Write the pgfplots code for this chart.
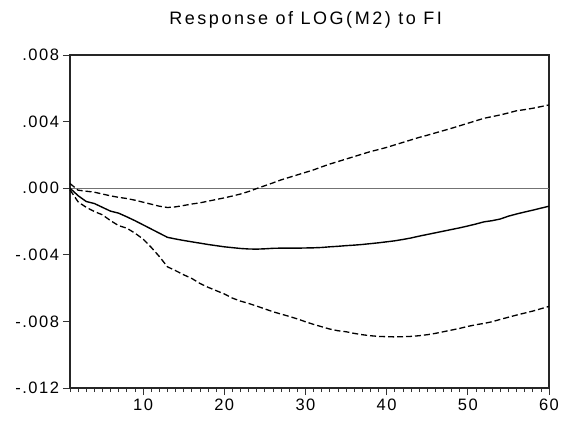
\documentclass[border=0pt]{standalone}
\usepackage{pgfplots}
\pgfplotsset{compat=1.18}
\usepackage{pgfplotstable}
\usepackage{fontspec}
\setmainfont{Liberation Sans}[LetterSpace=9]
\newfontfamily\titlefont{Liberation Sans}[LetterSpace=14]
\pgfplotstableread{
x mean hi lo
1 0 0.00028 -0.00010
2 -0.00045 -0.00012 -0.00082
3 -0.00080 -0.00018 -0.00115
4 -0.00092 -0.00024 -0.00140
5 -0.00115 -0.00035 -0.00160
6 -0.00138 -0.00046 -0.00195
7 -0.00150 -0.00055 -0.00225
8 -0.00172 -0.00062 -0.00240
9 -0.00195 -0.00072 -0.00270
10 -0.00220 -0.00084 -0.00305
11 -0.00245 -0.00096 -0.00355
12 -0.00270 -0.00108 -0.00410
13 -0.00295 -0.00116 -0.00472
14 -0.00305 -0.00112 -0.00495
15 -0.00314 -0.00104 -0.00520
16 -0.00322 -0.00095 -0.00542
17 -0.00330 -0.00088 -0.00572
18 -0.00338 -0.00078 -0.00595
19 -0.00345 -0.00068 -0.00615
20 -0.00352 -0.00058 -0.00635
21 -0.00357 -0.00047 -0.00660
22 -0.00362 -0.00035 -0.00678
23 -0.00365 -0.00020 -0.00692
24 -0.00366 -0.00002 -0.00708
25 -0.00364 0.00015 -0.00725
26 -0.00361 0.00032 -0.00742
27 -0.00360 0.00050 -0.00756
28 -0.00360 0.00065 -0.00770
29 -0.00360 0.00080 -0.00785
30 -0.00359 0.00095 -0.00802
31 -0.00358 0.00110 -0.00818
32 -0.00356 0.00128 -0.00832
33 -0.00352 0.00145 -0.00846
34 -0.00349 0.00160 -0.00856
35 -0.00345 0.00175 -0.00862
36 -0.00342 0.00190 -0.00872
37 -0.00338 0.00205 -0.00880
38 -0.00333 0.00220 -0.00886
39 -0.00328 0.00232 -0.00890
40 -0.00322 0.00245 -0.00892
41 -0.00316 0.00260 -0.00893
42 -0.00308 0.00275 -0.00892
43 -0.00299 0.00290 -0.00890
44 -0.00288 0.00305 -0.00886
45 -0.00278 0.00318 -0.00880
46 -0.00268 0.00332 -0.00872
47 -0.00258 0.00346 -0.00862
48 -0.00248 0.00360 -0.00852
49 -0.00238 0.00375 -0.00842
50 -0.00227 0.00390 -0.00830
51 -0.00215 0.00405 -0.00820
52 -0.00202 0.00420 -0.00812
53 -0.00195 0.00430 -0.00802
54 -0.00185 0.00440 -0.00788
55 -0.00168 0.00452 -0.00775
56 -0.00155 0.00465 -0.00762
57 -0.00143 0.00472 -0.00750
58 -0.00132 0.00480 -0.00738
59 -0.00120 0.00490 -0.00724
60 -0.00108 0.00500 -0.00710
}\irf
\begin{document}
\begin{tikzpicture}
\begin{axis}[
  at={(0,0)}, anchor=south west,
  scale only axis,
  width=479pt, height=333pt,
  xmin=1, xmax=60, ymin=-0.012, ymax=0.008,
  axis line style={draw=black!85, line width=1.4pt},
  xtick={10,20,30,40,50,60},
  minor xtick={1,2,...,60},
  ytick={-0.012,-0.008,-0.004,0,0.004,0.008},
  yticklabels={-.012,-.008,-.004,.000,.004,.008},
  xticklabels={10,20,30,40,50,60},
  tick align=outside,
  xtick pos=bottom, ytick pos=left,
  major tick length=7pt, minor tick length=4pt,
  tick style={draw=black!80, line width=0.7pt},
  scaled y ticks=false,
  tick label style={font=\fontsize{16.5}{19}\selectfont},
  yticklabel style={xshift=-0.5pt},
  /pgf/number format/assume math mode=true,
  clip=false,
]
\addplot[draw=black!55, line width=1pt] coordinates {(1,0) (60,0)};
\addplot[black, line width=1.3pt, dash pattern=on 6pt off 3pt] table[x=x,y=hi] {\irf};
\addplot[black, line width=1.3pt, dash pattern=on 6pt off 3pt] table[x=x,y=lo] {\irf};
\addplot[black, line width=1.4pt] table[x=x,y=mean] {\irf};
\node[anchor=base, font=\titlefont\fontsize{18}{21}\selectfont] at (rel axis cs:0.492,1) [yshift=30pt] {Response of LOG(M2) to FI};
\end{axis}
\path (-70pt,-33pt) rectangle (495pt,388pt);
\end{tikzpicture}
\end{document}
